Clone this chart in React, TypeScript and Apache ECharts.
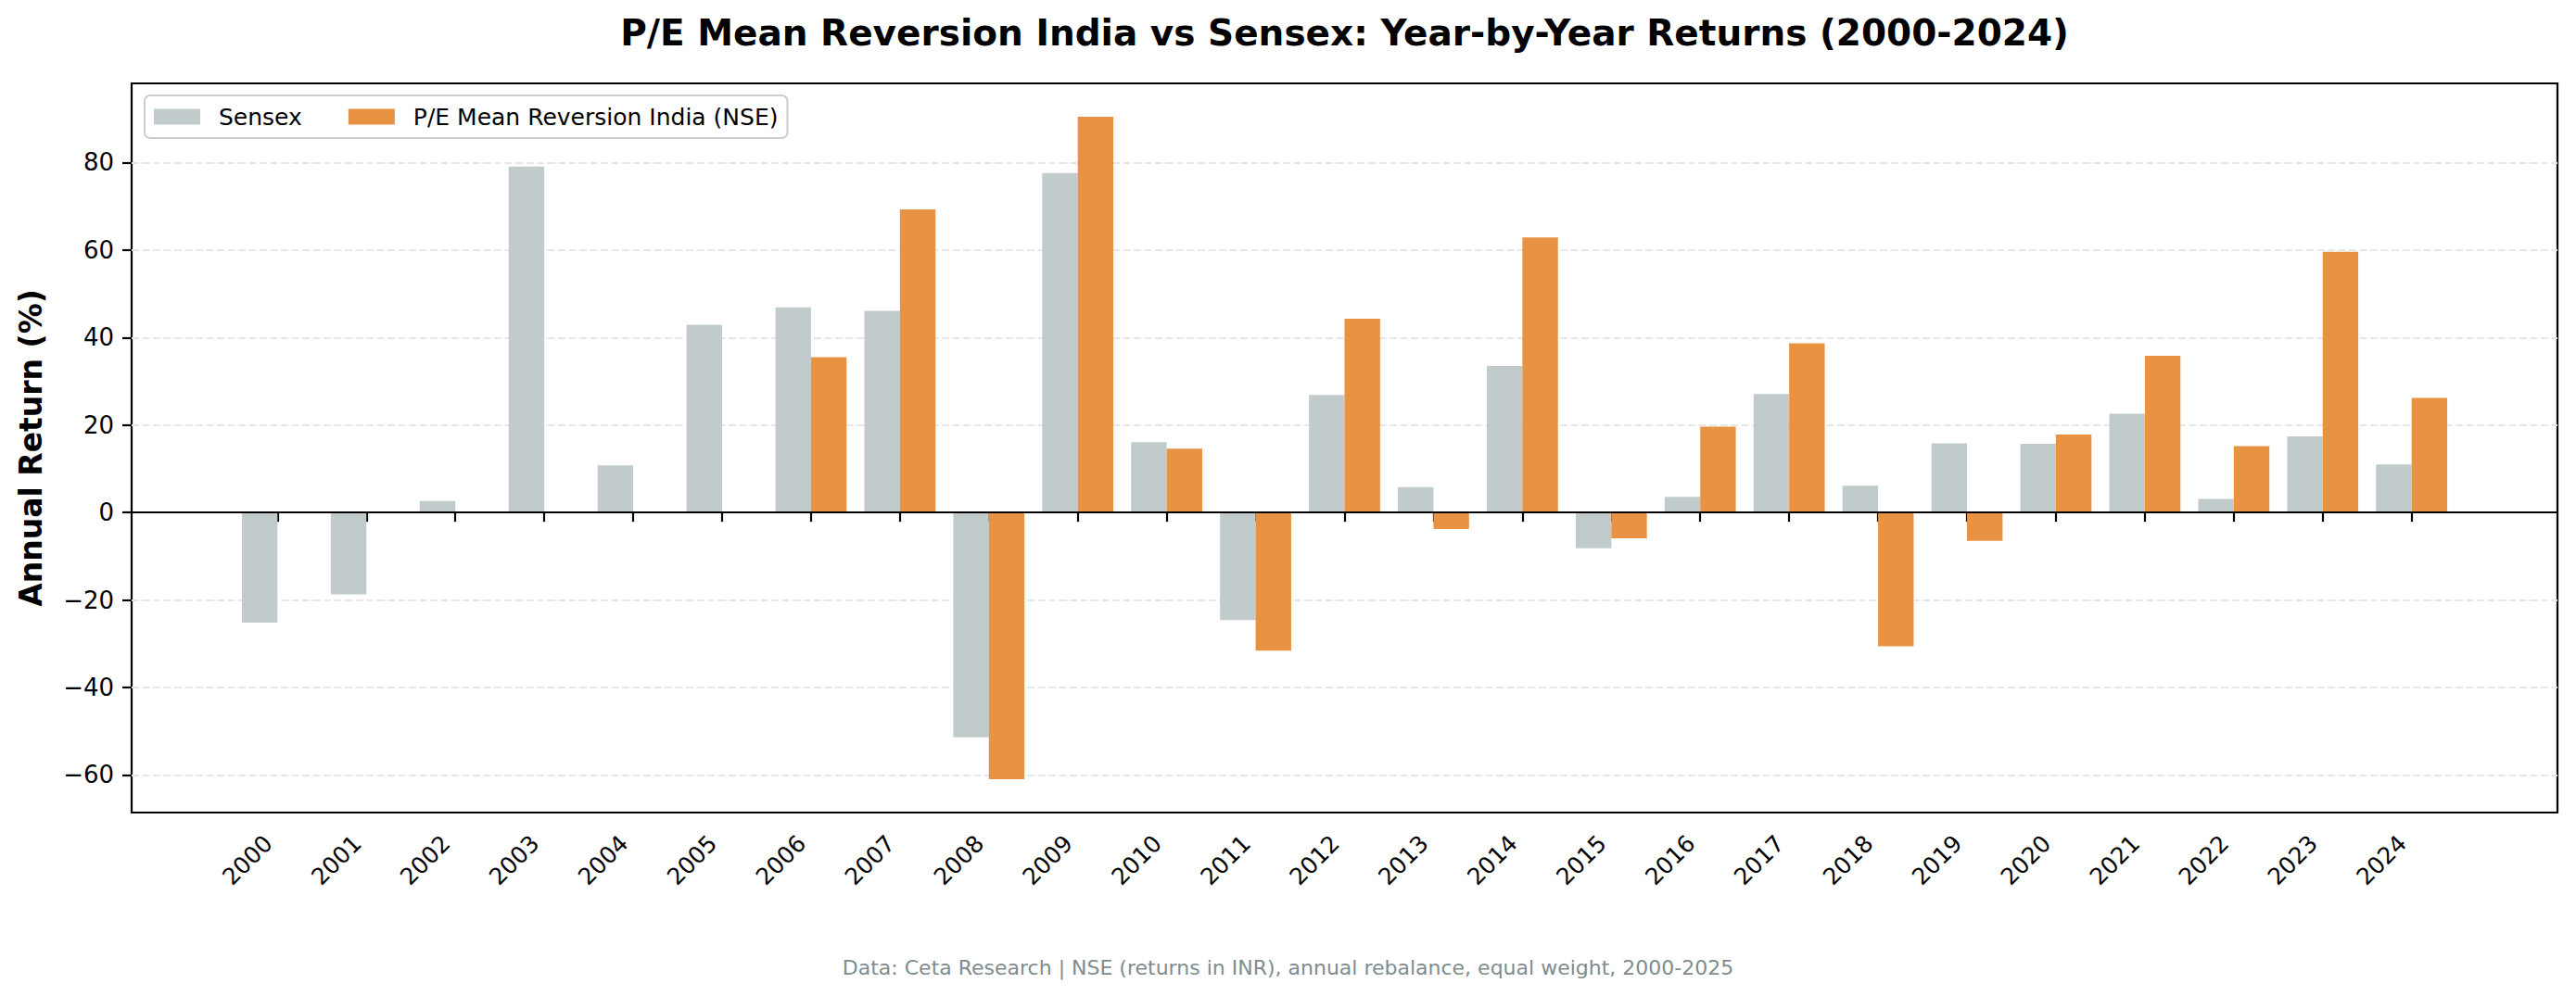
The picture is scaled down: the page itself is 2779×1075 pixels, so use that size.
import React, { useEffect, useRef } from "react";
import * as echarts from "echarts";

// values (annual return, %)
const YEARS = [
  "2000", "2001", "2002", "2003", "2004", "2005", "2006", "2007", "2008", "2009",
  "2010", "2011", "2012", "2013", "2014", "2015", "2016", "2017", "2018", "2019",
  "2020", "2021", "2022", "2023", "2024",
];
const SENSEX = [
  -25.2, -18.7, 2.6, 79.1, 10.8, 42.9, 46.9, 46.1, -51.4, 77.6,
  16.1, -24.6, 26.9, 5.8, 33.5, -8.2, 3.6, 27.1, 6.1, 15.8,
  15.7, 22.6, 3.1, 17.4, 11.0,
];
const PE_NSE = [
  null, null, null, null, null, null, 35.5, 69.3, -61.0, 90.5,
  14.6, -31.6, 44.3, -3.8, 62.9, -5.9, 19.6, 38.7, -30.6, -6.5,
  17.8, 35.8, 15.2, 59.6, 26.2,
];
const Y_TICKS = [-60, -40, -20, 0, 20, 40, 60, 80];
const Y_MIN = -68.6;
const Y_MAX = 98.1;

const SERIES_NAMES = ["Sensex", "P/E Mean Reversion India (NSE)"];
const TITLE = "P/E Mean Reversion India vs Sensex: Year-by-Year Returns (2000-2024)";
const Y_LABEL = "Annual Return (%)";
const FOOTER = "Data: Ceta Research | NSE (returns in INR), annual rebalance, equal weight, 2000-2025";

const FONT = "'DejaVu Sans', sans-serif";
const GRAY = "#c2cbcb";
const ORANGE = "#e89243";

// axes frame (px) and matplotlib-like x padding
const FRAME = { left: 142, top: 90, width: 2617, height: 787 };
const X_MARGIN = 1.64; // categories between frame edge and first/last tick

export default function App() {
  const ref = useRef<HTMLDivElement | null>(null);

  useEffect(() => {
    document.body.style.margin = "0";
    if (!ref.current) return;
    const chart = echarts.init(ref.current, undefined, { renderer: "svg" });

    const span = YEARS.length - 1 + 2 * X_MARGIN;
    const unit = FRAME.width / span;
    const barsLeft = FRAME.left + (X_MARGIN - 0.5) * unit;
    const barsWidth = YEARS.length * unit;
    const minus = (v: number) => (v < 0 ? "\u2212" + Math.abs(v) : String(v));

    chart.setOption({
      animation: false,
      backgroundColor: "#ffffff",
      textStyle: { fontFamily: FONT },
      grid: [
        {
          left: FRAME.left, top: FRAME.top, width: FRAME.width, height: FRAME.height,
          show: true, borderColor: "#000", borderWidth: 2.2, backgroundColor: "transparent",
        },
        { left: barsLeft, top: FRAME.top, width: barsWidth, height: FRAME.height },
      ],
      xAxis: [
        { gridIndex: 0, type: "value", min: 0, max: 1, show: false },
        {
          gridIndex: 1, type: "category", data: YEARS, boundaryGap: true,
          axisLine: { show: false },
          axisTick: { show: true, alignWithLabel: true, length: 10, lineStyle: { color: "#000", width: 2.2 } },
          axisLabel: {
            interval: 0, rotate: 45, fontSize: 25, color: "#000", fontFamily: FONT,
            margin: 19, padding: [0, 14, 0, 0],
          },
          splitLine: { show: false },
        },
      ],
      yAxis: [
        {
          gridIndex: 0, type: "value", min: Y_MIN, max: Y_MAX,
          axisLine: { show: false },
          axisTick: { show: true, length: 10, customValues: Y_TICKS, lineStyle: { color: "#000", width: 2.2 } },
          axisLabel: {
            customValues: Y_TICKS, fontSize: 26, color: "#000", fontFamily: FONT, margin: 19,
            formatter: (v: number) => minus(v),
          },
          splitLine: { show: true, lineStyle: { color: "#e7e7e7", width: 2.2, type: [8, 3.5] } },
        },
        { gridIndex: 1, type: "value", min: Y_MIN, max: Y_MAX, show: false },
      ],
      legend: {
        data: SERIES_NAMES,
        left: 156, top: 103, orient: "horizontal",
        icon: "rect", itemWidth: 50, itemHeight: 17, itemGap: 50,
        padding: [10, 10, 10, 10],
        backgroundColor: "rgba(255,255,255,0.8)",
        borderColor: "#cccccc", borderWidth: 2, borderRadius: 6,
        textStyle: { fontSize: 25, color: "#000", fontFamily: FONT, padding: [0, 0, 0, 15], lineHeight: 26 },
      },
      series: [
        {
          name: SERIES_NAMES[0], type: "bar", xAxisIndex: 1, yAxisIndex: 1,
          data: SENSEX, barWidth: "40%", barGap: "0%", itemStyle: { color: GRAY },
        },
        {
          name: SERIES_NAMES[1], type: "bar", xAxisIndex: 1, yAxisIndex: 1,
          data: PE_NSE, barWidth: "40%", barGap: "0%", itemStyle: { color: ORANGE },
        },
        {
          name: "zero", type: "line", xAxisIndex: 0, yAxisIndex: 0, data: [], z: 10,
          markLine: {
            silent: true, symbol: "none", label: { show: false },
            lineStyle: { color: "#000", width: 1.8, type: "solid" },
            data: [{ yAxis: 0 }],
          },
        },
      ],
      graphic: [
        {
          type: "text", x: FRAME.left + FRAME.width / 2, y: 35,
          style: {
            text: TITLE, fontSize: 39, fontWeight: "bold", fontFamily: FONT, fill: "#000",
            textAlign: "center", textVerticalAlign: "middle", align: "center", verticalAlign: "middle",
          },
        },
        {
          type: "text", x: 33, y: FRAME.top + FRAME.height / 2, rotation: Math.PI / 2,
          style: {
            text: Y_LABEL, fontSize: 33, fontWeight: "bold", fontFamily: FONT, fill: "#000",
            textAlign: "center", textVerticalAlign: "middle", align: "center", verticalAlign: "middle",
          },
        },
        {
          type: "text", x: 2779 / 2, y: 1044,
          style: {
            text: FOOTER, fontSize: 22, fontFamily: FONT, fill: "#7f8c8d",
            textAlign: "center", textVerticalAlign: "middle", align: "center", verticalAlign: "middle",
          },
        },
      ],
    });

    return () => chart.dispose();
  }, []);

  return <div ref={ref} style={{ width: 2779, height: 1075 }} />;
}
